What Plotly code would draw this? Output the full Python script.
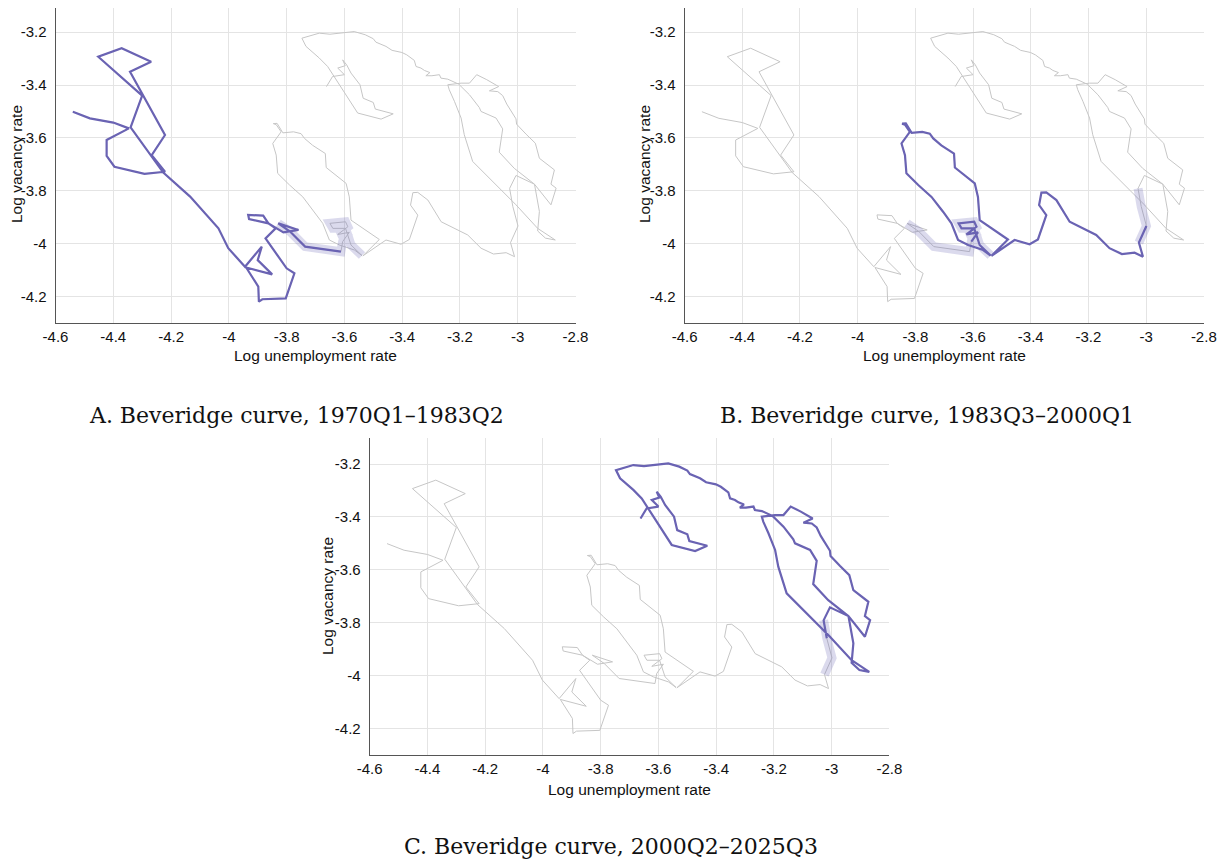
import plotly.graph_objects as go

# ---------------- data (log unemployment rate, log vacancy rate) ----------------
# Segment A: 1970Q1-1983Q2
a_log_u = [-4.540, -4.481, -4.400, -4.346, -4.423, -4.423, -4.396, -4.292, -4.221, -4.267,
           -4.221, -4.296, -4.342, -4.269, -4.371, -4.452, -4.300, -4.340, -4.227, -4.134,
           -4.036, -4.002, -3.944, -3.886, -3.900, -3.850, -3.940, -3.898, -3.896, -3.884,
           -3.803, -3.773, -3.800, -3.873, -3.838, -3.863, -3.930, -3.933, -3.881, -3.863,
           -3.811, -3.759, -3.829, -3.788, -3.736, -3.612]
a_log_v = [-3.501, -3.526, -3.542, -3.564, -3.608, -3.668, -3.709, -3.736, -3.728, -3.665,
           -3.589, -3.438, -3.350, -3.312, -3.261, -3.293, -3.440, -3.560, -3.731, -3.822,
           -3.942, -4.017, -4.087, -4.011, -4.062, -4.116, -4.090, -4.162, -4.219, -4.210,
           -4.207, -4.112, -4.093, -3.980, -3.942, -3.923, -3.907, -3.891, -3.894, -3.923,
           -3.957, -3.948, -3.923, -3.954, -4.011, -4.030]

# Segment B: 1983Q3-2000Q1
b_log_u = [-3.606, -3.583, -3.623, -3.588, -3.596, -3.650, -3.640, -3.596, -3.577, -3.539,
           -3.565, -3.617, -3.652, -3.675, -3.704, -3.744, -3.790, -3.831, -3.836, -3.848,
           -3.819, -3.836, -3.846, -3.833, -3.813, -3.776, -3.750, -3.738, -3.710, -3.666,
           -3.663, -3.594, -3.583, -3.577, -3.479, -3.536, -3.456, -3.404, -3.375, -3.346,
           -3.371, -3.363, -3.346, -3.311, -3.265, -3.173, -3.127, -3.084, -3.040, -3.011,
           -3.025, -2.999]
b_log_v = [-3.992, -3.957, -3.965, -3.936, -3.917, -3.923, -3.942, -3.942, -4.005, -4.045,
           -4.024, -4.005, -3.986, -3.923, -3.879, -3.823, -3.778, -3.734, -3.665, -3.621,
           -3.577, -3.550, -3.546, -3.545, -3.581, -3.577, -3.584, -3.602, -3.628, -3.659,
           -3.712, -3.772, -3.823, -3.911, -3.984, -4.046, -3.986, -4.002, -3.984, -3.892,
           -3.854, -3.807, -3.806, -3.835, -3.917, -3.967, -4.017, -4.039, -4.034, -4.049,
           -3.996, -3.933]

# Segment C: 2000Q2-2025Q3
c_log_u = [-3.017, -3.028, -3.006, -2.942, -2.885, -2.867, -2.885, -2.873, -2.925, -2.939,
           -2.971, -3.004, -3.006, -3.038, -3.052, -3.069, -3.098, -3.066, -3.107, -3.142,
           -3.167, -3.196, -3.242, -3.237, -3.219, -3.196, -3.185, -3.156, -3.006, -2.931,
           -2.870, -2.904, -2.931, -2.925, -2.942, -3.012, -3.064, -3.052, -3.075, -3.127,
           -3.133, -3.167, -3.204, -3.242, -3.266, -3.271, -3.297, -3.318, -3.304, -3.323,
           -3.335, -3.352, -3.358, -3.384, -3.401, -3.435, -3.456, -3.491, -3.500, -3.528,
           -3.566, -3.650, -3.687, -3.747, -3.733, -3.687, -3.658, -3.635, -3.595, -3.554,
           -3.473, -3.431, -3.493, -3.500, -3.535, -3.546, -3.577, -3.592, -3.606, -3.597,
           -3.623, -3.600, -3.641, -3.662]
c_log_v = [-3.859, -3.791, -3.742, -3.775, -3.853, -3.790, -3.775, -3.721, -3.677, -3.620,
           -3.586, -3.548, -3.528, -3.472, -3.440, -3.425, -3.422, -3.406, -3.380, -3.361,
           -3.393, -3.393, -3.399, -3.418, -3.462, -3.525, -3.588, -3.689, -3.853, -3.942,
           -3.986, -3.979, -3.952, -3.878, -3.775, -3.715, -3.654, -3.566, -3.525, -3.500,
           -3.485, -3.437, -3.397, -3.378, -3.374, -3.361, -3.365, -3.365, -3.353, -3.345,
           -3.336, -3.330, -3.307, -3.286, -3.277, -3.269, -3.254, -3.238, -3.225, -3.210,
           -3.198, -3.208, -3.204, -3.223, -3.254, -3.298, -3.330, -3.368, -3.437, -3.506,
           -3.529, -3.509, -3.491, -3.466, -3.450, -3.399, -3.355, -3.324, -3.305, -3.327,
           -3.336, -3.361, -3.368, -3.406]

# observations inside each break window (before, after the break)
break1_window = [4, 10]
break2_window = [2, 2]

x_ticks = [-4.6, -4.4, -4.2, -4.0, -3.8, -3.6, -3.4, -3.2, -3.0, -2.8]
x_tick_labels = ["-4.6", "-4.4", "-4.2", "-4", "-3.8", "-3.6", "-3.4", "-3.2", "-3", "-2.8"]
y_ticks = [-3.2, -3.4, -3.6, -3.8, -4.0, -4.2]
y_tick_labels = ["-3.2", "-3.4", "-3.6", "-3.8", "-4", "-4.2"]

panel_titles = ["A. Beveridge curve, 1970Q1–1983Q2",
                "B. Beveridge curve, 1983Q3–2000Q1",
                "C. Beveridge curve, 2000Q2–2025Q3"]
x_title = "Log unemployment rate"
y_title = "Log vacancy rate"

# ---------------- derived ----------------
all_u = a_log_u + b_log_u + c_log_u
all_v = a_log_v + b_log_v + c_log_v
shade1 = (a_log_u[-break1_window[0]:] + b_log_u[:break1_window[1]],
          a_log_v[-break1_window[0]:] + b_log_v[:break1_window[1]])
shade2 = (b_log_u[-break2_window[0]:] + c_log_u[:break2_window[1]],
          b_log_v[-break2_window[0]:] + c_log_v[:break2_window[1]])

# page has an 8px body margin; the figure fills the rest of the 1225x867 window
OFF = 8
W, H = 1225 - 2 * OFF, 867 - 2 * OFF
PURPLE = "#6a63b3"
GREY = "#c6c6c6"
SHADE = "rgba(106,100,179,0.24)"
TICK_FONT = dict(family="Liberation Sans, Arial, sans-serif", size=15, color="#111")
TITLE_FONT = dict(family="Liberation Sans, Arial, sans-serif", size=15.5, color="#111")
PX_PER_UNIT_Y = 264.5


def fx(px):
    return (px - OFF) / W


def fy(py):
    return min(1.0, max(0.0, 1 - (py - OFF) / H))


# panel boxes in window pixels: x-left, x-right, y of -3.2 tick
panels = [
    dict(seg=(a_log_u, a_log_v), shades=[shade1], xpx=(55.5, 575.5), y32=32.1,
         title=panel_titles[0], tpos=(296, 415), xt=(315.5, 355), yt=(17, 164)),
    dict(seg=(b_log_u, b_log_v), shades=[shade1, shade2], xpx=(684.6, 1203.8), y32=32.1,
         title=panel_titles[1], tpos=(927, 415), xt=(944, 355), yt=(645, 164)),
    dict(seg=(c_log_u, c_log_v), shades=[shade2], xpx=(369.7, 889.45), y32=464.0,
         title=panel_titles[2], tpos=(611, 846), xt=(629.6, 789), yt=(327, 596)),
]

fig = go.Figure()
layout = dict(width=W, height=H, margin=dict(l=0, r=0, t=0, b=0, pad=0),
              paper_bgcolor="white", plot_bgcolor="white", showlegend=False,
              annotations=[])

for i, p in enumerate(panels, start=1):
    xa = "x" if i == 1 else f"x{i}"
    ya = "y" if i == 1 else f"y{i}"
    fig.add_trace(go.Scatter(x=all_u, y=all_v, mode="lines", xaxis=xa, yaxis=ya,
                             line=dict(color=GREY, width=1), hoverinfo="skip"))
    for su, sv in p["shades"]:
        fig.add_trace(go.Scatter(x=su, y=sv, mode="lines", xaxis=xa, yaxis=ya,
                                 line=dict(color=SHADE, width=9), hoverinfo="skip"))
    fig.add_trace(go.Scatter(x=p["seg"][0], y=p["seg"][1], mode="lines", xaxis=xa, yaxis=ya,
                             line=dict(color=PURPLE, width=2.2)))
    # vertical placement: top at -3.1 (clipped to page area), bottom at -4.3
    top_px = max(OFF, p["y32"] - 0.1 * PX_PER_UNIT_Y)
    bot_px = p["y32"] + 1.1 * PX_PER_UNIT_Y
    y_top_val = -3.2 + (p["y32"] - top_px) / PX_PER_UNIT_Y
    xkey = "xaxis" if i == 1 else f"xaxis{i}"
    ykey = "yaxis" if i == 1 else f"yaxis{i}"
    layout[xkey] = dict(domain=[fx(p["xpx"][0]), fx(p["xpx"][1])], range=[-4.6, -2.8],
                        anchor=ya, tickvals=x_ticks, ticktext=x_tick_labels, automargin=False,
                        showgrid=True, gridcolor="#e4e4e4", gridwidth=1, zeroline=False,
                        showline=True, linecolor="#555", linewidth=1, ticks="",
                        tickfont=TICK_FONT, ticklabelstandoff=0)
    layout[ykey] = dict(domain=[fy(bot_px), fy(top_px)], range=[-4.3, y_top_val],
                        anchor=xa, tickvals=y_ticks, ticktext=y_tick_labels, automargin=False,
                        showgrid=True, gridcolor="#e4e4e4", gridwidth=1, zeroline=False,
                        showline=True, linecolor="#555", linewidth=1, ticks="",
                        tickfont=TICK_FONT, ticklabelstandoff=5)
    layout["annotations"] += [
        dict(text=p["title"], x=fx(p["tpos"][0]), y=fy(p["tpos"][1]), xref="paper", yref="paper",
             xanchor="center", yanchor="middle", showarrow=False,
             font=dict(family="DejaVu Serif, serif", size=22, color="#111")),
        dict(text=x_title, x=fx(p["xt"][0]), y=fy(p["xt"][1]), xref="paper", yref="paper",
             xanchor="center", yanchor="middle", showarrow=False, font=TITLE_FONT),
        dict(text=y_title, x=fx(p["yt"][0]), y=fy(p["yt"][1]), xref="paper", yref="paper",
             xanchor="center", yanchor="middle", showarrow=False, textangle=-90, font=TITLE_FONT),
    ]

fig.update_layout(**layout)
fig.write_html("out.html")
